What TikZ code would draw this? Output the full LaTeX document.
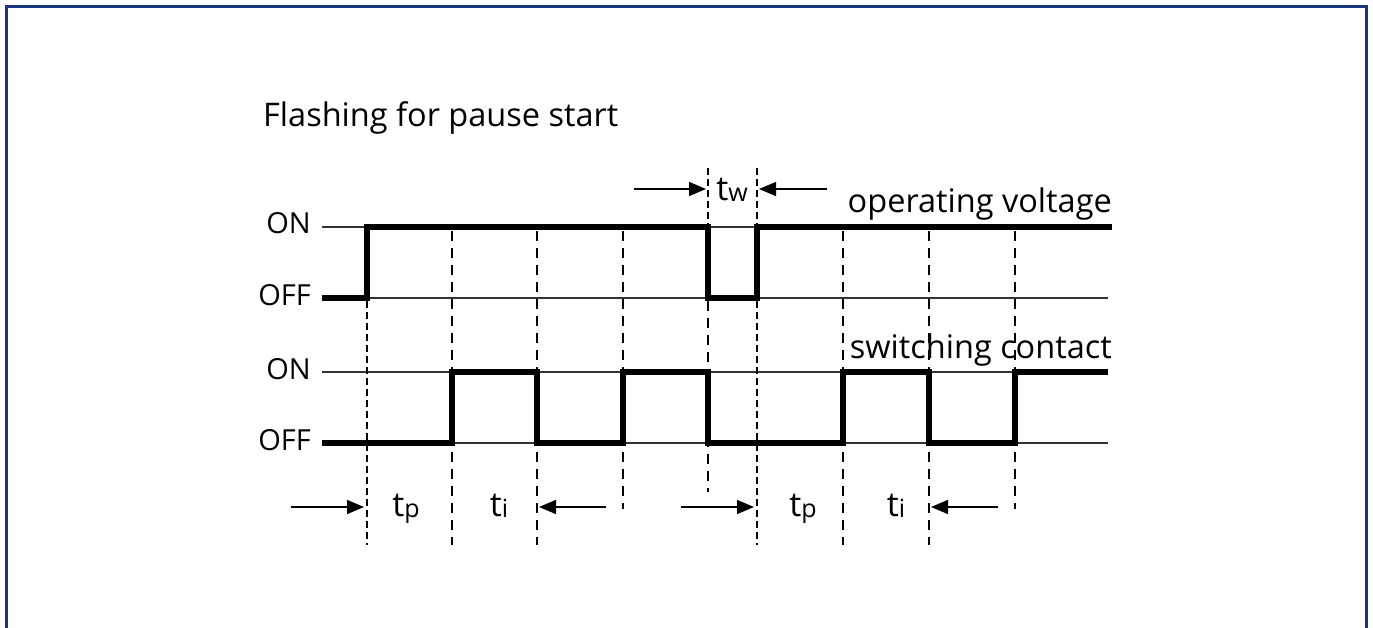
\documentclass[tikz,border=0pt]{standalone}
\usepackage{fontspec}
\setmainfont{Open Sans}
\usetikzlibrary{arrows.meta}
\definecolor{frameblue}{RGB}{26,54,128}
\newcommand{\tsub}[1]{t\raisebox{-1.5pt}{\fontsize{25}{27}\selectfont #1}}
\begin{document}
\begin{tikzpicture}[x=1pt,y=-1pt,
  sig/.style={line width=5.5pt, line join=miter, line cap=butt},
  refline/.style={line width=1.5pt, black!80},
  guide/.style={line width=1.4pt, dash pattern=on 10pt off 7pt},
  fguide/.style={line width=1.3pt, dash pattern=on 7pt off 4pt},
  dimarrow/.style={line width=1.4pt, -{Triangle[length=17pt,width=14pt]}},
  lbl/.style={font=\fontsize{32.5}{36}\selectfont, inner sep=0pt},
  lvl/.style={font=\fontsize{29}{33}\selectfont, inner sep=0pt, anchor=base east},
  tlbl/.style={font=\fontsize{34}{37}\selectfont, inner sep=0pt, anchor=base},
]
\useasboundingbox (0,0) rectangle (1373,627);
\fill[white] (0,0) rectangle (1373,627);
% frame
\draw[frameblue, line width=3pt] (6,630) -- (6,6.5) -- (1366.5,6.5) -- (1366.5,630);

% title
\node[lbl, anchor=base west] (title) at (263,126) {Flashing for pause start};

% level labels
\node[lvl] (on1) at (311,233.5) {ON};
\node[lvl] (off1) at (311,305.5) {OFF};
\node[lvl] (on2) at (311,379.5) {ON};
\node[lvl] (off2) at (311,450.5) {OFF};

% reference lines
\draw[refline] (322,227) -- (1110,227);
\draw[refline] (322,298) -- (1108,298);
\draw[refline] (322,372) -- (1108,372);
\draw[refline] (322,443) -- (1108,443);

% guides
\draw[fguide] (367,301) -- (367,545);
\draw[guide] (452,231) -- (452,545);
\draw[guide] (537,231) -- (537,545);
\draw[guide] (623,231) -- (623,509);
\draw[fguide] (708,168) -- (708,225);
\draw[guide] (708,301) -- (708,492);
\draw[fguide] (757,168) -- (757,225);
\draw[fguide] (757,301) -- (757,545);
\draw[guide] (843,231) -- (843,545);
\draw[guide] (929,231) -- (929,545);
\draw[guide] (1015,231) -- (1015,509);

% signals
\draw[sig] (322,298) -- (367,298) -- (367,227) -- (708,227) -- (708,298) -- (757,298) -- (757,227) -- (1112,227);
\draw[sig] (322,443) -- (452,443) -- (452,372) -- (537,372) -- (537,443) -- (623,443) -- (623,372) -- (708,372) -- (708,443) -- (843,443) -- (843,372) -- (929,372) -- (929,443) -- (1015,443) -- (1015,372) -- (1108,372);

% signal names
\node[lbl, anchor=base east] (opv) at (1112,212) {operating voltage};
\node[lbl, anchor=base east] (swc) at (1112,358) {switching contact};

% tw dimension
\coordinate (twa) at (634,189);
\coordinate (twb) at (706,189);
\coordinate (twc) at (827,189);
\coordinate (twd) at (759,189);
\draw[dimarrow] (twa) -- (twb);
\draw[dimarrow] (twc) -- (twd);
\node[tlbl] (tw) at (732,200) {\tsub{w}};

% bottom dimensions
\coordinate (a1) at (291,507);
\coordinate (b1) at (364,507);
\coordinate (a2) at (606,507);
\coordinate (b2) at (539,507);
\coordinate (a3) at (681,507);
\coordinate (b3) at (754,507);
\coordinate (a4) at (998,507);
\coordinate (b4) at (931,507);
\draw[dimarrow] (a1) -- (b1);
\draw[dimarrow] (a2) -- (b2);
\draw[dimarrow] (a3) -- (b3);
\draw[dimarrow] (a4) -- (b4);
\node[tlbl] (tp1) at (406,516) {\tsub{p}};
\node[tlbl] (ti1) at (499,516) {\tsub{i}};
\node[tlbl] (tp2) at (803,516) {\tsub{p}};
\node[tlbl] (ti2) at (896,516) {\tsub{i}};
\end{tikzpicture}
\end{document}
